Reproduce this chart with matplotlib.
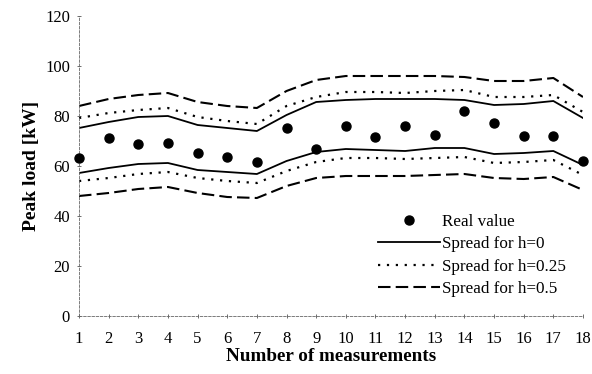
import numpy as np
import matplotlib
matplotlib.use("Agg")
from matplotlib import pyplot as plt

# measurement number
measurements = list(range(1, 19))

# real peak load values [kW]
real_value = [63.2, 71.2, 68.8, 69.2, 65.2, 63.6, 61.6, 75.2, 66.8,
              76.0, 71.6, 76.0, 72.4, 82.0, 77.2, 72.0, 72.0, 62.0]

# spread bands (upper / lower) for each h
h0_upper = [75.2, 77.6, 79.6, 80.0, 76.4, 75.2, 74.0, 80.4, 85.6,
            86.4, 86.8, 86.8, 86.8, 86.4, 84.4, 84.8, 86.0, 79.2]
h0_lower = [57.2, 59.2, 60.8, 61.2, 58.4, 57.6, 56.8, 62.0, 65.6,
            66.8, 66.4, 66.0, 67.2, 67.2, 64.8, 65.2, 66.0, 60.4]
h025_upper = [79.2, 81.2, 82.4, 83.2, 79.6, 78.0, 76.8, 84.0, 87.6,
              89.6, 89.6, 89.2, 90.0, 90.4, 87.6, 87.6, 88.4, 81.6]
h025_lower = [54.0, 55.2, 56.8, 57.6, 55.2, 54.0, 53.2, 58.0, 61.6,
              63.2, 63.2, 62.8, 63.2, 63.6, 61.2, 61.6, 62.4, 56.4]
h05_upper = [84.0, 86.8, 88.4, 89.2, 85.6, 84.0, 83.2, 90.0, 94.4,
             96.0, 96.0, 96.0, 96.0, 95.6, 94.0, 94.0, 95.2, 87.6]
h05_lower = [48.0, 49.2, 50.8, 51.6, 49.2, 47.6, 47.2, 52.0, 55.2,
             56.0, 56.0, 56.0, 56.4, 56.8, 55.2, 54.8, 55.6, 50.4]

plt.rcParams["font.family"] = ["Liberation Serif", "DejaVu Serif"]

fig = plt.figure(figsize=(5.92, 3.74), dpi=100)
ax = fig.add_axes([79 / 592, 58 / 374, 504 / 592, 300 / 374])

x = np.array(measurements)
ax.plot(x, real_value, "o", color="black", markersize=6.5, clip_on=False,
        label="Real value", zorder=5)
ax.plot(x, h0_upper, "-", color="black", lw=1.3, label="Spread for h=0")
ax.plot(x, h0_lower, "-", color="black", lw=1.3)
ax.plot(x, h025_upper, color="black", lw=1.6, linestyle=(0, (1, 3)),
        label="Spread for h=0.25")
ax.plot(x, h025_lower, color="black", lw=1.6, linestyle=(0, (1, 3)))
ax.plot(x, h05_upper, color="black", lw=1.5, linestyle=(0, (6, 2.5)),
        label="Spread for h=0.5")
ax.plot(x, h05_lower, color="black", lw=1.5, linestyle=(0, (6, 2.5)))

ax.set_xlim(1, 18)
ax.set_ylim(0, 120)
ax.set_xticks(measurements)
ax.set_yticks(range(0, 121, 20))
ax.tick_params(axis="both", labelsize=12, length=3, width=0.6,
               direction="inout", color="#555555")
ax.tick_params(axis="x", pad=9)
ax.tick_params(axis="y", pad=5)

for side in ["top", "right"]:
    ax.spines[side].set_visible(False)
for side in ["left", "bottom"]:
    ax.spines[side].set_linestyle((0, (3, 2)))
    ax.spines[side].set_linewidth(0.6)
    ax.spines[side].set_color("#666666")

ax.set_xlabel("Number of measurements", fontsize=13.8, fontweight="bold",
              labelpad=1)
ax.set_ylabel("Peak load [kW]", fontsize=14, fontweight="bold", labelpad=4)

leg = ax.legend(loc="lower left", bbox_to_anchor=(0.58, 0.04), frameon=False,
                fontsize=12.3, handlelength=3.6, handletextpad=0.15,
                labelspacing=0.38, borderaxespad=0)

fig.savefig("out.png", dpi=100, facecolor="white")
